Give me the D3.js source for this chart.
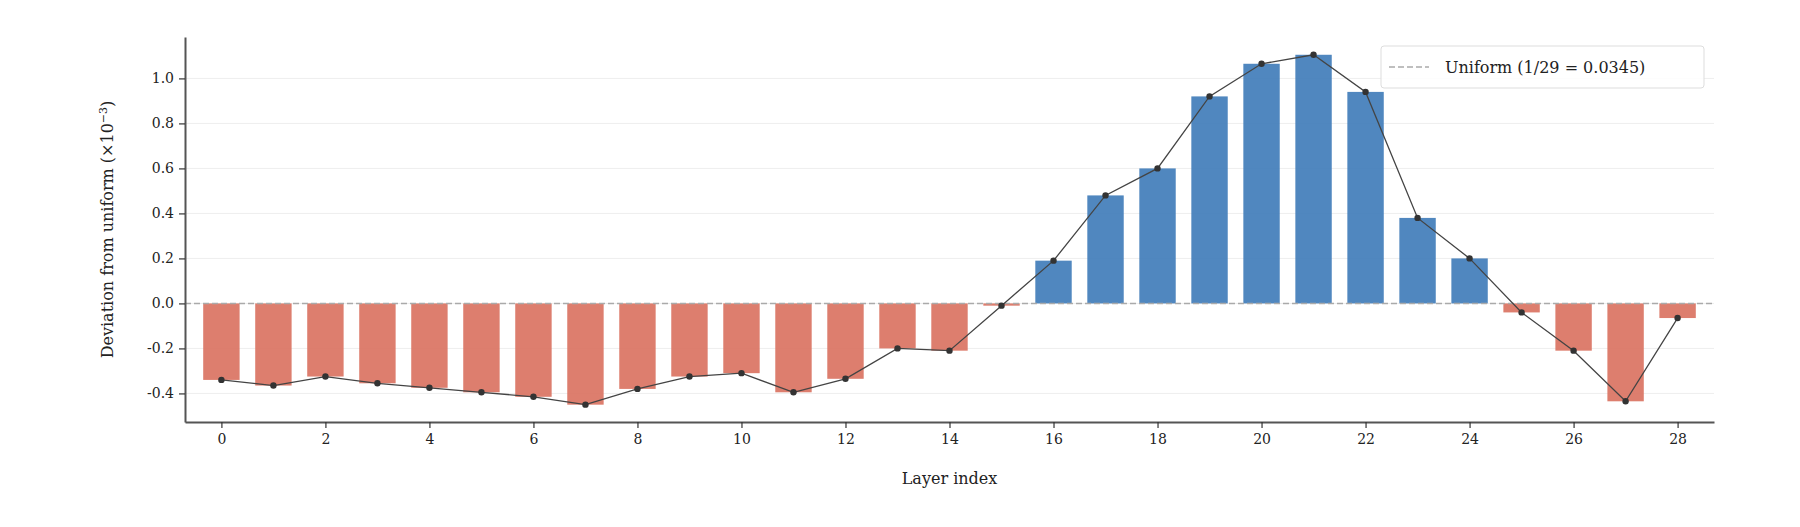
<!DOCTYPE html>
<html><head><meta charset="utf-8">
<script src="https://cdn.jsdelivr.net/npm/d3@7"></script>
<style>body{margin:0;background:#fff}text{font-family:"DejaVu Serif",serif;fill:#222}</style>
</head><body><svg id="chart" width="1800" height="527"></svg>
<script>
const layers = d3.range(29)
const deviation = [-0.34,-0.365,-0.325,-0.355,-0.375,-0.395,-0.415,-0.45,-0.38,-0.325,-0.31,-0.395,-0.335,-0.2,-0.21,-0.01,0.19,0.48,0.6,0.92,1.065,1.105,0.94,0.38,0.2,-0.04,-0.21,-0.435,-0.065]
const yTicks = [-0.4,-0.2,0,0.2,0.4,0.6,0.8,1.0]
const xTicks = d3.range(0, 29, 2)

const svg = d3.select("#chart")
const margin = {left: 185, right: 86, top: 37, bottom: 105}
const width = +svg.attr("width"), height = +svg.attr("height")

const x = d3.scaleLinear().domain([-0.7, 28.7]).range([margin.left, width - margin.right])
const y = d3.scaleLinear().domain([-0.527, 1.184]).range([height - margin.bottom, margin.top])
const bw = x(0.7) - x(0)

// grid
svg.append("g").selectAll("line").data(yTicks).enter().append("line")
  .attr("x1", margin.left).attr("x2", width - margin.right)
  .attr("y1", d => y(d)).attr("y2", d => y(d))
  .attr("stroke", "#eee").attr("stroke-width", 1)

svg.append("g").selectAll("rect").data(deviation).enter().append("rect")
  .attr("x", (d, i) => x(i) - bw / 2)
  .attr("width", bw)
  .attr("y", d => y(Math.max(0, d)))
  .attr("height", d => Math.abs(y(d) - y(0)))
  .attr("fill", d => d >= 0 ? "#3d7ab8" : "#d9705e")
  .attr("opacity", 0.9)

svg.append("line")
  .attr("x1", margin.left).attr("x2", width - margin.right)
  .attr("y1", y(0)).attr("y2", y(0))
  .attr("stroke", "#aaa").attr("stroke-width", 1.5).attr("stroke-dasharray", "6,3")

const line = d3.line().x((d, i) => x(i)).y(d => y(d))
svg.append("path").datum(deviation)
  .attr("d", line).attr("fill", "none").attr("stroke", "#444").attr("stroke-width", 1.3)
svg.append("g").selectAll("circle").data(deviation).enter().append("circle")
  .attr("cx", (d, i) => x(i)).attr("cy", d => y(d)).attr("r", 3.2).attr("fill", "#333")

// axes
const xAxis = svg.append("g")
  .attr("transform", `translate(0,${height - margin.bottom})`)
  .call(d3.axisBottom(x).tickValues(xTicks).tickSize(6).tickPadding(6).tickSizeOuter(0))
const yAxis = svg.append("g")
  .attr("transform", `translate(${margin.left},0)`)
  .call(d3.axisLeft(y).tickValues(yTicks).tickFormat(d3.format(".1f")).tickSize(6).tickPadding(5).tickSizeOuter(0))
for (const a of [xAxis, yAxis]) {
  a.select(".domain").attr("stroke", "#555").attr("stroke-width", 2)
  a.selectAll(".tick line").attr("stroke", "#333").attr("stroke-width", 1.2)
  a.selectAll("text").style("font-size", "14px").style("font-family", "DejaVu Serif").attr("fill", "#222")
}
yAxis.selectAll("text").text(d => d3.format(".1f")(d).replace("−", "-"))

svg.append("text").attr("x", (margin.left + width - margin.right) / 2).attr("y", 484)
  .attr("text-anchor", "middle").style("font-size", "16px").text("Layer index")
const yl = svg.append("text").attr("transform", `translate(113,${(margin.top + height - margin.bottom) / 2}) rotate(-90)`)
  .attr("text-anchor", "middle").style("font-size", "16px")
yl.append("tspan").text("Deviation from uniform (×10")
yl.append("tspan").attr("dy", -6).style("font-size", "11px").text("−3")
yl.append("tspan").attr("dy", 6).text(")")

// legend
const lg = svg.append("g").attr("transform", "translate(1381,46)")
lg.append("rect").attr("width", 323).attr("height", 42).attr("rx", 3)
  .attr("fill", "#fff").attr("fill-opacity", 0.85).attr("stroke", "#ddd")
lg.append("line").attr("x1", 8).attr("x2", 48).attr("y1", 21).attr("y2", 21)
  .attr("stroke", "#aaa").attr("stroke-width", 1.5).attr("stroke-dasharray", "6,3")
lg.append("text").attr("x", 64).attr("y", 27).style("font-size", "16px").text("Uniform (1/29 = 0.0345)")
</script></body></html>
